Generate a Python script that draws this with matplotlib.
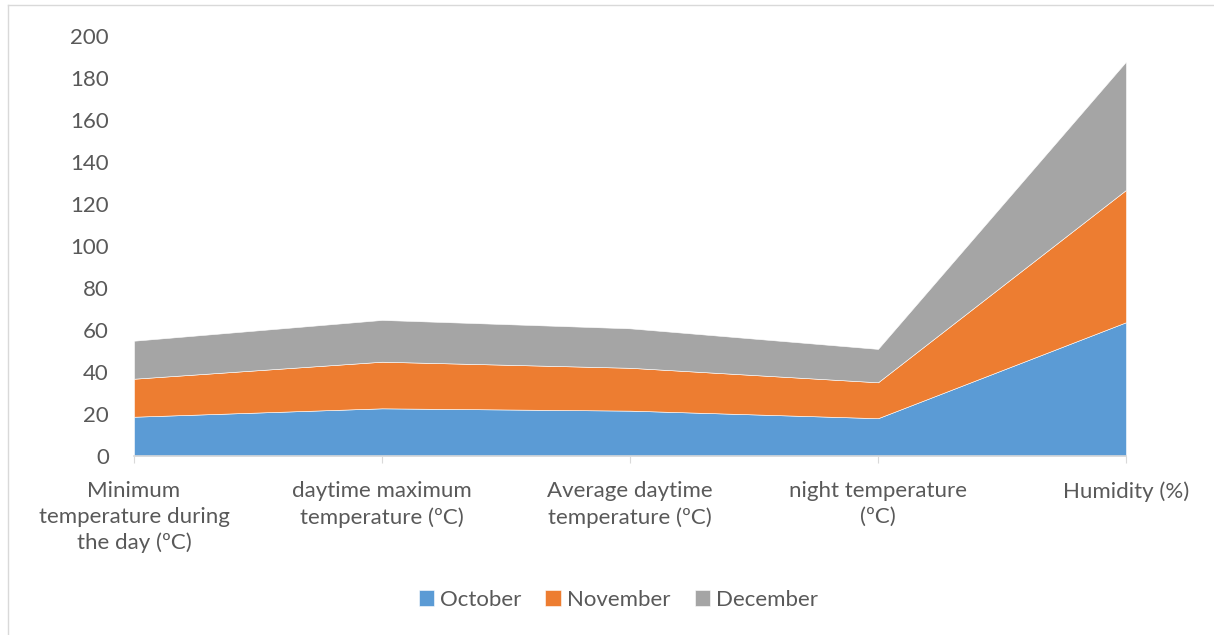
import matplotlib.pyplot as plt
from matplotlib.lines import Line2D
import numpy as np

# Weather summary by month (stacked)
categorias = ['Minimum\ntemperature during\nthe day (ºC)',
              'daytime maximum\ntemperature (ºC)',
              'Average daytime\ntemperature (ºC)',
              'night temperature\n(ºC)',
              'Humidity (%)']
outubro = [18.7, 22.7, 21.6, 18.0, 63.7]
novembro = [18.1, 22.2, 20.4, 17.1, 63.0]
dezembro = [18.1, 19.9, 18.8, 15.9, 61.1]
meses = ['October', 'November', 'December']
cores = ['#5B9BD5', '#ED7D31', '#A5A5A5']

plt.rcParams['font.family'] = ['Lato', 'DejaVu Sans']
cor_texto = '#595959'

fig = plt.figure(figsize=(12.14, 6.35), dpi=100)
ax = fig.add_axes([134 / 1214, 1 - 456 / 635, (1126 - 134) / 1214, 420 / 635])

x = np.arange(len(categorias))
ax.stackplot(x, outubro, novembro, dezembro, colors=cores, labels=meses,
             edgecolor='white', linewidth=0.4)

ax.set_xlim(0, len(categorias) - 1)
ax.set_ylim(0, 200)
ax.set_yticks(np.arange(0, 201, 20))
ax.set_xticks(x)
ax.set_xticklabels(categorias, fontsize=16, color=cor_texto, linespacing=1.36)
ax.tick_params(axis='y', length=0, pad=18, labelsize=16, labelcolor=cor_texto)
ax.tick_params(axis='x', length=5, color='#D9D9D9', pad=13)

for lado in ['top', 'right', 'left']:
    ax.spines[lado].set_visible(False)
ax.spines['bottom'].set_color('#D9D9D9')
ax.spines['bottom'].set_linewidth(1.2)

#Legenda
ax.legend(loc='center', bbox_to_anchor=(0.488, (456 - 600) / 420), ncol=3,
          frameon=False, fontsize=16, labelcolor=cor_texto, handlelength=0.7,
          handleheight=0.7, handletextpad=0.25, columnspacing=1.1)

#Borda do gráfico
fig.add_artist(Line2D([8 / 1214, 8 / 1214], [0, 1 - 5 / 635],
                      transform=fig.transFigure, color='#D9D9D9', lw=1))
fig.add_artist(Line2D([8 / 1214, 1], [1 - 5 / 635, 1 - 5 / 635],
                      transform=fig.transFigure, color='#D9D9D9', lw=1))

plt.savefig('out.png', dpi=100)
